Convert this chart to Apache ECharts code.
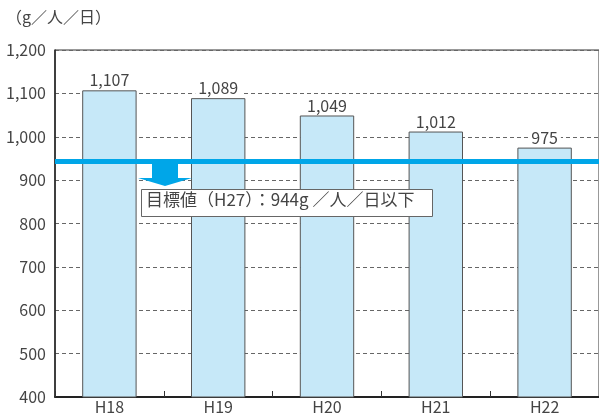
<!DOCTYPE html>
<html>
<head>
<meta charset="utf-8">
<script src="https://cdn.jsdelivr.net/npm/echarts@6/dist/echarts.min.js"></script>
<style>
  html, body { margin: 0; padding: 0; background: #fff; }
  #chart { width: 599px; height: 419px; }
</style>
</head>
<body>
<div id="chart"></div>
<script>
// データ
const categories = ['H18', 'H19', 'H20', 'H21', 'H22'];
const values = [1107, 1089, 1049, 1012, 975];
const targetValue = 944;
const unitLabel = '（g／人／日）';
const targetText = '目標値（H27）：944g ／人／日以下';

const FONT = '"Noto Sans CJK JP", "Noto Sans", sans-serif';
const fmt = v => String(v).replace(/\B(?=(\d{3})+(?!\d))/g, ',');

const chart = echarts.init(document.getElementById('chart'), null, { renderer: 'canvas' });

chart.setOption({
  animation: false,
  textStyle: { fontFamily: FONT },
  grid: { left: 55, top: 50, width: 549, height: 347, show: true, borderColor: '#333', borderWidth: 1 },
  xAxis: {
    type: 'category',
    data: categories,
    axisLine: { lineStyle: { color: '#222', width: 2 } },
    axisTick: { show: true, inside: true, length: 6, lineStyle: { color: '#333' } },
    axisLabel: { color: '#444', fontSize: 16, margin: 2, fontFamily: FONT }
  },
  yAxis: {
    type: 'value',
    min: 400,
    max: 1200,
    interval: 100,
    axisLine: { show: true, lineStyle: { color: '#222', width: 1.5 } },
    axisTick: { show: false },
    axisLabel: { color: '#444', fontSize: 16, margin: 9, formatter: fmt, fontFamily: FONT }
    ,
    splitLine: { lineStyle: { color: '#666', type: [4, 3], width: 1 } }
  },
  series: [{
    type: 'bar',
    data: values,
    barWidth: '50%',
    itemStyle: { color: '#c6e8f8', borderColor: '#555', borderWidth: 1 },
    label: {
      show: true,
      position: 'top',
      distance: 2,
      color: '#444',
      fontSize: 16,
      fontFamily: FONT,
      backgroundColor: '#fff',
      padding: [0, 3],
      formatter: p => fmt(p.value)
    },
    markLine: {
      silent: true,
      symbol: 'none',
      label: { show: false },
      lineStyle: { color: '#00a6e8', width: 5, type: 'solid' },
      data: [{ yAxis: targetValue }],
      z: 10
    }
  }],
  graphic: [
    {
      type: 'text',
      left: 6, top: 9,
      style: { text: unitLabel, fill: '#444', font: '16px ' + FONT }
    },
    {
      type: 'polygon',
      z: 100,
      shape: {
        points: [[152, 161], [178, 161], [178, 178], [192, 178], [165, 186], [138, 178], [152, 178]]
      },
      style: { fill: '#00a6e8' }
    },
    {
      type: 'rect',
      z: 100,
      shape: { x: 141.5, y: 189.5, width: 291, height: 27 },
      style: { fill: '#fff', stroke: '#666', lineWidth: 1 }
    },
    {
      type: 'text',
      z: 101,
      left: 146, top: 191,
      style: { text: targetText, fill: '#444', font: '17px ' + FONT }
    }
  ]
});
</script>
</body>
</html>
